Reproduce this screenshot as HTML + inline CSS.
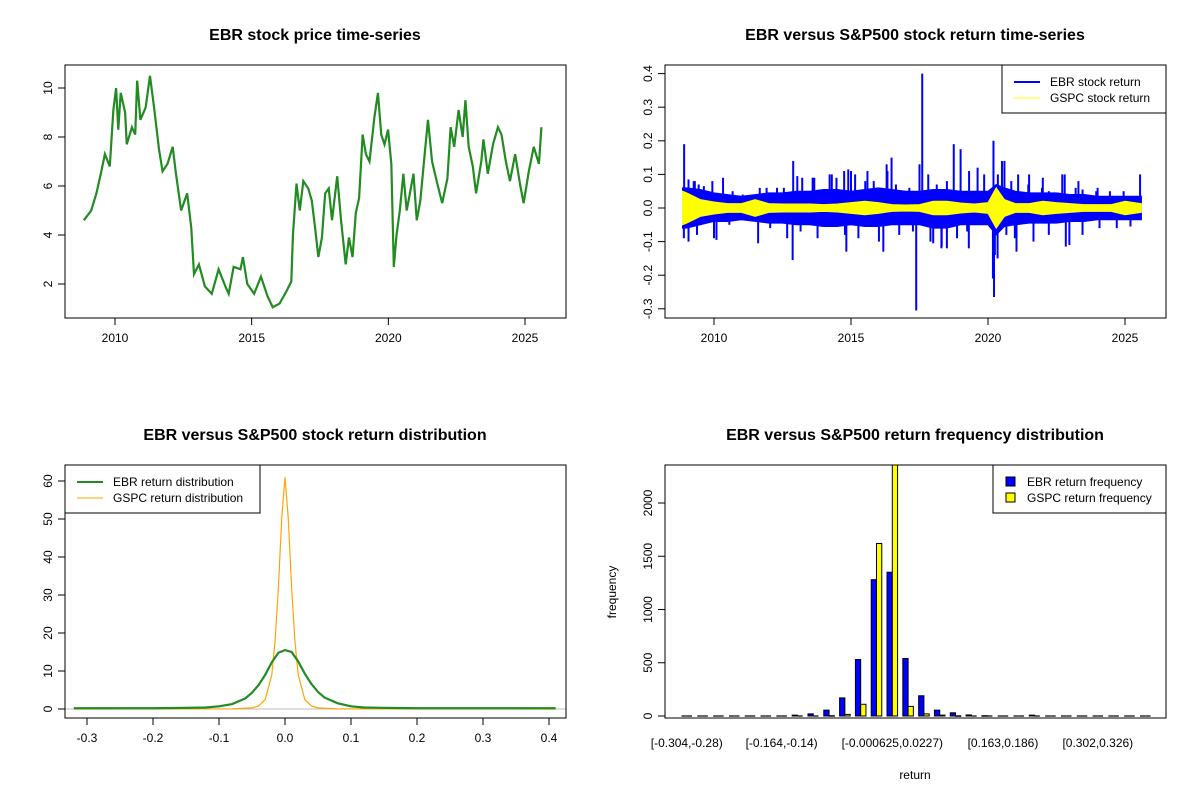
<!DOCTYPE html>
<html><head><meta charset="utf-8">
<style>
body{margin:0;background:#fff}
svg{display:block;font-family:"Liberation Sans",Arial,sans-serif}
.t{font-weight:bold;font-size:16px;text-anchor:middle}
.l{font-size:12px}
</style></head>
<body>
<svg id="s" width="1200" height="800" xmlns="http://www.w3.org/2000/svg"></svg>
<script>
// ---- price data (year, price) ----
const priceYears=[2008.86,2009.13,2009.32,2009.5,2009.63,2009.81,2009.94,2010.04,2010.12,2010.21,2010.37,2010.43,2010.62,2010.74,2010.81,2010.93,2011.12,2011.28,2011.43,2011.61,2011.74,2011.92,2012.11,2012.23,2012.42,2012.64,2012.79,2012.89,2013.07,2013.29,2013.54,2013.79,2014.04,2014.16,2014.34,2014.59,2014.68,2014.84,2015.09,2015.34,2015.58,2015.77,2016.02,2016.27,2016.45,2016.51,2016.64,2016.76,2016.89,2017.07,2017.2,2017.32,2017.44,2017.57,2017.69,2017.82,2017.94,2018.13,2018.27,2018.44,2018.56,2018.69,2018.81,2018.93,2019.06,2019.18,2019.31,2019.49,2019.62,2019.74,2019.86,2019.99,2020.11,2020.2,2020.3,2020.42,2020.55,2020.67,2020.79,2020.92,2021.04,2021.17,2021.33,2021.45,2021.6,2021.79,2021.97,2022.16,2022.28,2022.41,2022.57,2022.72,2022.82,2022.94,2023.09,2023.21,2023.4,2023.48,2023.64,2023.83,2024.01,2024.14,2024.3,2024.45,2024.64,2024.83,2024.95,2025.14,2025.32,2025.51,2025.6];
const priceValues=[4.6,5.0,5.7,6.6,7.3,6.8,9.1,10.0,8.3,9.8,9.0,7.7,8.4,8.1,10.3,8.7,9.2,10.5,9.2,7.5,6.6,6.9,7.6,6.5,5.0,5.7,4.3,2.4,2.8,1.9,1.6,2.6,1.9,1.6,2.7,2.6,3.1,2.0,1.6,2.3,1.5,1.05,1.2,1.7,2.1,4.0,6.1,5.0,6.2,5.9,5.4,4.3,3.1,3.9,5.7,5.9,4.6,6.4,4.6,2.8,3.9,3.1,4.9,5.5,8.1,7.3,7.0,8.8,9.8,8.1,7.7,8.3,6.9,2.7,4.0,5.0,6.5,5.0,5.7,6.5,4.6,5.4,7.3,8.7,7.0,6.1,5.3,6.3,8.4,7.6,9.1,8.0,9.5,7.6,6.8,5.7,7.0,7.9,6.5,7.7,8.4,8.1,7.0,6.2,7.3,6.0,5.3,6.6,7.6,6.9,8.4];
const yearTicks=[2010,2015,2020,2025];
const priceTicks=[2,4,6,8,10];
// ---- return envelopes ----
const envYears=[2008.85,2009,2009.5,2010,2010.5,2011,2011.5,2012,2012.5,2013,2013.5,2014,2014.5,2015,2015.5,2016,2016.5,2017,2017.5,2018,2018.5,2019,2019.5,2020,2020.3,2020.6,2021,2021.5,2022,2022.5,2023,2023.5,2024,2024.5,2025,2025.6];
const ebrUpper=[0.06,0.06,0.055,0.045,0.04,0.035,0.04,0.045,0.045,0.05,0.05,0.055,0.055,0.05,0.055,0.06,0.055,0.05,0.05,0.055,0.055,0.05,0.05,0.05,0.07,0.06,0.05,0.045,0.045,0.045,0.04,0.04,0.035,0.035,0.035,0.035];
const ebrLower=[-0.06,-0.06,-0.05,-0.04,-0.04,-0.035,-0.04,-0.045,-0.045,-0.05,-0.05,-0.055,-0.055,-0.05,-0.055,-0.055,-0.05,-0.05,-0.05,-0.06,-0.06,-0.05,-0.05,-0.05,-0.08,-0.055,-0.05,-0.045,-0.045,-0.045,-0.04,-0.04,-0.035,-0.035,-0.035,-0.035];
const gspcAmp=[0.05,0.045,0.025,0.018,0.013,0.013,0.025,0.013,0.012,0.012,0.012,0.01,0.012,0.016,0.02,0.016,0.01,0.009,0.01,0.02,0.02,0.015,0.012,0.016,0.06,0.025,0.013,0.013,0.02,0.016,0.013,0.01,0.01,0.01,0.02,0.013];
const spikeYears=[2008.91,2008.9,2009.3,2010.0,2012.89,2012.87,2013.6,2014.3,2014.83,2015.0,2015.6,2016.18,2016.48,2016.3,2017.5,2017.6,2017.38,2017.9,2018.3,2018.75,2019.0,2019.3,2020.2,2020.18,2020.22,2020.35,2020.51,2021.04,2021.5,2022.0,2022.84,2022.8,2023.3,2024.0,2025.55,
2009.07,2009.26,2009.44,2009.63,2009.94,2010.33,2010.68,2011.05,2011.67,2011.92,2012.3,2012.55,2013.04,2013.22,2013.66,2014.22,2014.47,2014.75,2014.9,2015.15,2015.52,2015.83,2016.33,2016.64,2017.13,2017.82,2018.13,2018.5,2019.31,2019.62,2019.86,2020.36,2020.6,2020.85,2021.1,2021.47,2021.97,2022.22,2022.71,2023.2,2023.45,2023.95,2024.45,2024.95,
2009.07,2009.38,2010.09,2010.56,2011.61,2012.05,2012.67,2013.16,2013.78,2014.78,2015.27,2016.02,2016.76,2017.26,2018.0,2018.31,2018.5,2018.87,2019.24,2020.25,2020.67,2020.98,2021.66,2022.22,2022.97,2023.45,2024.07,2024.7,2025.2];
const spikeValues=[0.19,-0.09,0.08,-0.09,0.14,-0.155,0.09,0.1,-0.13,0.11,0.11,-0.13,0.15,0.13,0.13,0.40,-0.305,-0.1,-0.12,0.19,0.175,-0.12,0.2,-0.21,-0.265,-0.15,0.14,-0.13,0.1,0.09,-0.115,0.1,0.08,0.06,0.1,
0.085,0.08,0.07,0.065,0.08,0.09,0.05,0.04,0.06,0.06,0.06,0.06,0.095,0.09,0.09,0.1,0.09,0.11,0.115,0.1,0.08,0.08,0.11,0.07,0.06,0.1,0.07,0.08,0.11,0.12,0.1,0.1,0.14,0.08,0.1,0.07,0.06,0.05,0.1,0.06,0.055,0.05,0.05,0.05,
-0.1,-0.08,-0.095,-0.05,-0.105,-0.06,-0.09,-0.07,-0.09,-0.08,-0.09,-0.1,-0.08,-0.07,-0.105,-0.115,-0.12,-0.09,-0.07,-0.14,-0.08,-0.09,-0.1,-0.08,-0.11,-0.08,-0.06,-0.06,-0.055];
const retTicks=[-0.3,-0.2,-0.1,0.0,0.1,0.2,0.3,0.4];
// ---- densities ----
const ebrDensX=[-0.32,-0.2,-0.15,-0.12,-0.1,-0.08,-0.06,-0.05,-0.04,-0.03,-0.02,-0.01,0,0.01,0.02,0.03,0.04,0.05,0.06,0.08,0.1,0.12,0.15,0.2,0.41];
const ebrDensY=[0.2,0.2,0.3,0.4,0.7,1.3,2.8,4.3,6.3,9,12.3,14.8,15.5,15,12.5,9.3,6.6,4.5,3,1.5,0.7,0.4,0.3,0.2,0.2];
const gspcDensX=[-0.32,-0.08,-0.05,-0.04,-0.03,-0.02,-0.015,-0.01,-0.005,0,0.005,0.01,0.015,0.02,0.03,0.04,0.05,0.08,0.41];
const gspcDensY=[0,0.05,0.3,0.8,2.5,9,18,32,50,61,50,32,18,9,2.5,0.8,0.3,0.05,0];
const densXTicks=[-0.3,-0.2,-0.1,0.0,0.1,0.2,0.3,0.4];
const densYTicks=[0,10,20,30,40,50,60];
// ---- histogram ----
const binLabels=["[-0.304,-0.28)","[-0.164,-0.14)","[-0.000625,0.0227)","[0.163,0.186)","[0.302,0.326)"];
const binLabelIdx=[0,6,13,20,26];
const ebrFreq=[0,0,0,0,0,0,0,8,20,55,170,530,1280,1350,540,190,55,30,10,3,0,0,8,0,0,0,0,0,0,0];
const gspcFreq=[0,0,0,0,0,0,0,0,0,3,15,110,1620,2700,90,20,8,2,0,0,0,0,0,0,0,0,0,0,0,0];
const freqTicks=[0,500,1000,1500,2000];

const S=document.getElementById('s');const NS='http://www.w3.org/2000/svg';
function mk(tag,at,parent,txt){const e=document.createElementNS(NS,tag);for(const k in at)e.setAttribute(k,at[k]);if(txt!==undefined)e.textContent=txt;(parent||S).appendChild(e);return e;}
function lin(d0,d1,r0,r1){return v=>r0+(v-d0)*(r1-r0)/(d1-d0);}
function box(x0,y0,x1,y1,name){const r=mk('rect',{x:x0,y:y0,width:x1-x0,height:y1-y0,fill:'none',stroke:'#000','stroke-width':1});}
function xaxis(ticks,sx,y,labels,name){const g=mk('g',{});
 ticks.forEach((t,i)=>{const x=sx(t);mk('line',{x1:x,x2:x,y1:y,y2:y+7,stroke:'#000'},g);mk('text',{x:x,y:y+24,'text-anchor':'middle',class:'l'},g,labels?labels[i]:String(t));});}
function yaxis(ticks,sy,x,fmt,name){const g=mk('g',{});
 ticks.forEach(t=>{const y=sy(t);mk('line',{x1:x-7,x2:x,y1:y,y2:y,stroke:'#000'},g);const tx=x-13;mk('text',{x:tx,y:y,transform:`rotate(-90 ${tx} ${y})`,'text-anchor':'middle',class:'l'},g,fmt?fmt(t):String(t));});}
function title(x,y,s,name){const t=mk('text',{x:x,y:y,class:'t'},S,s);}
function poly(xs,ys,sx,sy,attrs,name){const p=mk('polyline',Object.assign({points:xs.map((v,i)=>sx(v)+','+sy(ys[i])).join(' '),fill:'none'},attrs));return p;}
function legend(x0,y0,x1,y1,items,name){const g=mk('g',{});
 mk('rect',{x:x0,y:y0,width:x1-x0,height:y1-y0,fill:'#fff',stroke:'#000'},g);
 items.forEach((it,i)=>{const y=y0+17+i*16;
  if(it.sq)mk('rect',{x:x0+13,y:y-5,width:9,height:9,fill:it.c,stroke:'#000'},g);
  else mk('line',{x1:x0+12,x2:x0+38,y1:y,y2:y,stroke:it.c,'stroke-width':it.w},g);
  mk('text',{x:x0+(it.sq?34:48),y:y+4,class:'l'},g,it.t);});}

// Panel 1
title(315,40,'EBR stock price time-series','price-title');
{const sx=lin(2010,2025,115,525),sy=lin(2,10,284,88);
 poly(priceYears,priceValues,sx,sy,{stroke:'#228B22','stroke-width':2.2,'stroke-linejoin':'miter'},'price-line');
 box(65,65,566,318,'price-plot-box');xaxis(yearTicks,sx,318,null,'price-x-axis');yaxis(priceTicks,sy,65,null,'price-y-axis');}

// Panel 2
title(915,40,'EBR versus S&P500 stock return time-series','return-title');
{const sx=lin(2010,2025,714,1125),sy=lin(0,0.1,208,174.4);
 const pts=envYears.map((v,i)=>sx(v)+','+sy(ebrUpper[i])).concat(envYears.slice().reverse().map((v,j)=>{const i=envYears.length-1-j;return sx(v)+','+sy(ebrLower[i]);})).join(' ');
 const pe=mk('polygon',{points:pts,fill:'#0000FF',stroke:'#0000FF','stroke-width':1});
 const g=mk('g',{});
 spikeYears.forEach((v,i)=>{mk('line',{x1:sx(v),x2:sx(v),y1:sy(0),y2:sy(spikeValues[i]),stroke:'#0000FF','stroke-width':2},g);});
 const gp=envYears.map((v,i)=>sx(v)+','+sy(gspcAmp[i])).concat(envYears.slice().reverse().map((v,j)=>{const i=envYears.length-1-j;return sx(v)+','+sy(-gspcAmp[i]);})).join(' ');
 const py=mk('polygon',{points:gp,fill:'#FFFF00',stroke:'#FFFF00','stroke-width':1});
 box(665,65,1166,318,'return-plot-box');xaxis(yearTicks,sx,318,null,'return-x-axis');yaxis(retTicks,sy,665,t=>t.toFixed(1),'return-y-axis');
 legend(1002,65,1166,113,[{c:'#0000FF',w:2,t:'EBR stock return'},{c:'#FFFF00',w:1,t:'GSPC stock return'}],'return-legend');}

// Panel 3
title(315,440,'EBR versus S&P500 stock return distribution','density-title');
{const sx=lin(0,0.1,285,351),sy=lin(0,60,709,481);
 mk('line',{x1:65,x2:566,y1:sy(0),y2:sy(0),stroke:'#bebebe'});
 poly(gspcDensX,gspcDensY,sx,sy,{stroke:'#FFA500','stroke-width':1.2},'gspc-density-line');
 poly(ebrDensX,ebrDensY,sx,sy,{stroke:'#228B22','stroke-width':2.2},'ebr-density-line');
 box(65,465,566,718,'density-plot-box');xaxis(densXTicks,sx,718,densXTicks.map(t=>t.toFixed(1)),'density-x-axis');yaxis(densYTicks,sy,65,null,'density-y-axis');
 legend(65,465,260,513,[{c:'#228B22',w:2,t:'EBR return distribution'},{c:'#FFA500',w:1,t:'GSPC return distribution'}],'density-legend');}

// Panel 4
title(915,440,'EBR versus S&P500 return frequency distribution','histogram-title');
{const sy=lin(0,2000,716,503),u=5.27,x0=681.5;
 const cl=mk('clipPath',{id:'c4'});mk('rect',{x:665,y:465,width:501,height:253},cl);
 const g=mk('g',{'clip-path':'url(#c4)'});
 function bar(x,v,fill,name){
  if(v<=0){const l=mk('line',{x1:x,x2:x+u,y1:sy(0),y2:sy(0),stroke:'#000','stroke-width':1.2},g);return;}
  const b=mk('rect',{x:x,y:sy(v),width:u,height:Math.max(sy(0)-sy(v),0.5),fill:fill,stroke:'#000','stroke-width':1},g);
  }
 ebrFreq.forEach((v,i)=>{const x=x0+i*3*u;bar(x,v,'#0000FF','ebr-bar');bar(x+u,gspcFreq[i],'#FFFF00','gspc-bar');});
 box(665,465,1166,718,'histogram-plot-box');
 const gl=mk('g',{});
 binLabels.forEach((s,k)=>{mk('text',{x:x0+binLabelIdx[k]*3*u+u,y:747,'text-anchor':'middle',class:'l'},gl,s);});
 yaxis(freqTicks,sy,665,null,'histogram-y-axis');
 const xl=mk('text',{x:915,y:779,'text-anchor':'middle',class:'l'},S,'return');
 const yl=mk('text',{x:616,y:592,transform:'rotate(-90 616 592)','text-anchor':'middle',class:'l'},S,'frequency');
 legend(993,465,1166,513,[{c:'#0000FF',sq:1,t:'EBR return frequency'},{c:'#FFFF00',sq:1,t:'GSPC return frequency'}],'histogram-legend');}
</script>
</body></html>
